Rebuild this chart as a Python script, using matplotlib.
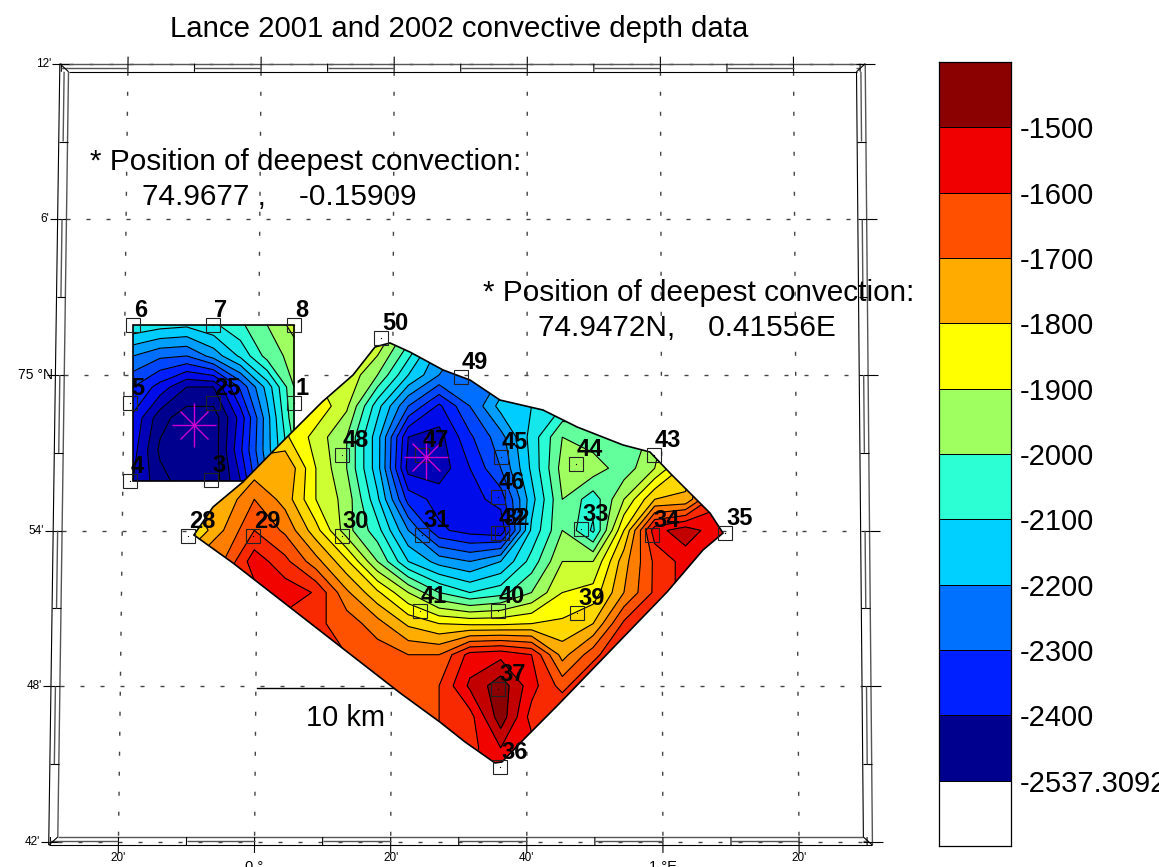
import numpy as np
import matplotlib
matplotlib.use('Agg')
import matplotlib.pyplot as plt
from matplotlib.colors import LinearSegmentedColormap, BoundaryNorm, ListedColormap
from matplotlib.patches import Polygon

plt.rcParams['font.family'] = ['Liberation Sans', 'DejaVu Sans']

# all positions in km east / north of 0 deg, 75 N
# --------------------------------------------------------------------------------------------------

# 2002 box
box_east = [-8.96, -7.04, -5.13, -3.21, -1.29, 0.62, 2.54]
box_north = [3.57, 1.36, -0.86, -3.07, -5.36, -7.57]
box_depth = [
    [-2060, -2080, -2090, -2060, -2010, -1950, -1880],
    [-2200, -2240, -2250, -2180, -2090, -1980, -1930],
    [-2300, -2370, -2450, -2450, -2290, -2130, -1950],
    [-2360, -2480, -2530, -2530, -2380, -2170, -1960],
    [-2380, -2510, -2530, -2530, -2360, -2170, -2000],
    [-2400, -2480, -2530, -2530, -2400, -2200, -2100],
]

# 2001 survey
sur_east = [-4.7, -2.5, -0.3, 1.9, 4.1, 6.3, 8.5, 10.7, 12.9, 15.1, 17.3, 19.5, 21.7, 23.9, 26.1, 28.3, 30.5, 32.7, 34.9]
sur_north = [4.44, 2.22, 0, -2.22, -4.44, -6.66, -8.88, -11.1, -13.32, -15.54, -17.76, -19.98, -22.2, -24.42, -26.64, -28.86]
sur_depth = [
    [-1800, -1800, -1800, -1800, -1800, -1850, -1870, -2000, -2150, -2200, -2200, -2100, -2050, -2000, -2000, -1950, -1800, -1600, -1500],
    [-1800, -1800, -1800, -1820, -1850, -1860, -1870, -2000, -2150, -2220, -2200, -2100, -2050, -2030, -2000, -1950, -1800, -1600, -1500],
    [-1800, -1800, -1800, -1820, -1850, -1860, -1950, -2100, -2200, -2240, -2200, -2110, -2060, -2030, -2000, -1950, -1800, -1600, -1500],
    [-1800, -1800, -1800, -1800, -1810, -1890, -2080, -2250, -2360, -2250, -2130, -2100, -2050, -2020, -2000, -1950, -1800, -1600, -1500],
    [-1800, -1800, -1780, -1790, -1870, -1950, -2130, -2400, -2420, -2310, -2220, -2080, -1950, -1980, -2000, -1930, -1800, -1600, -1500],
    [-1750, -1750, -1730, -1700, -1850, -1950, -2130, -2420, -2430, -2350, -2250, -2090, -1930, -1920, -1980, -1900, -1780, -1600, -1500],
    [-1750, -1740, -1650, -1720, -1850, -1920, -2090, -2320, -2370, -2370, -2330, -2120, -1950, -2030, -1900, -1750, -1740, -1560, -1500],
    [-1800, -1700, -1600, -1660, -1780, -1930, -2030, -2200, -2340, -2370, -2390, -2090, -1950, -2060, -1800, -1520, -1470, -1530, -1550],
    [-1700, -1650, -1520, -1585, -1680, -1790, -1950, -2100, -2170, -2200, -2150, -2030, -1900, -1900, -1720, -1590, -1530, -1540, -1550],
    [-1600, -1590, -1570, -1520, -1555, -1690, -1790, -1900, -2000, -2050, -2020, -1950, -1850, -1830, -1700, -1590, -1530, -1530, -1550],
    [-1550, -1550, -1560, -1570, -1590, -1620, -1680, -1760, -1800, -1810, -1810, -1800, -1790, -1750, -1590, -1530, -1530, -1550, -1550],
    [-1550, -1550, -1550, -1550, -1580, -1600, -1620, -1650, -1650, -1530, -1515, -1550, -1720, -1620, -1530, -1530, -1550, -1550, -1550],
    [-1550, -1550, -1550, -1550, -1580, -1600, -1600, -1610, -1600, -1490, -1420, -1530, -1620, -1530, -1530, -1550, -1550, -1550, -1550],
    [-1550, -1550, -1550, -1550, -1580, -1600, -1600, -1600, -1600, -1570, -1420, -1570, -1530, -1530, -1550, -1550, -1550, -1550, -1550],
    [-1550, -1550, -1550, -1550, -1580, -1600, -1600, -1600, -1600, -1570, -1500, -1530, -1550, -1550, -1550, -1550, -1550, -1550, -1550],
    [-1550, -1550, -1550, -1550, -1550, -1550, -1550, -1550, -1550, -1550, -1530, -1550, -1550, -1550, -1550, -1550, -1550, -1550, -1550],
]
sur_edge_east = [-4.61, -3.25, -1.11, 1.68, 4.54, 6.75, 8.32, 9.39, 10.82, 13.18, 15.11, 17.25, 20.32, 22.75, 26.04, 27.96,
                 29.39, 32.25, 33.18, 31.75, 29.18, 25.32, 21.39, 19.04, 17.39, 16.89, 14.75, 12.96, 10.11, -1.82]
sur_edge_north = [-11.43, -9.43, -7.64, -4.79, -1.93, 0, 2.0, 2.29, 1.64, 0.36, -0.36, -1.79, -2.5, -3.71, -5.0, -5.5,
                  -7.0, -9.86, -11.29, -12.5, -15.5, -19.5, -23.57, -25.93, -27.64, -27.71, -26.21, -24.79, -22.71, -13.43]

# stations
st_num = [1, 3, 4, 5, 6, 7, 8, 25, 28, 29, 30, 31, 42, 32, 33, 34, 35, 36, 37, 39, 40, 41, 43, 44, 45, 46, 47, 48, 49, 50]
st_east = [2.54, -3.39, -9.18, -9.18, -8.96, -3.25, 2.54, -3.25, -5.04, -0.39, 5.96, 11.68, 17.11, 17.39, 23.04, 28.11, 33.32,
           17.25, 17.11, 22.75, 17.11, 11.54, 28.25, 22.68, 17.32, 17.11, 11.68, 5.96, 14.46, 8.75]
st_north = [-2.0, -7.5, -7.57, -2.0, 3.57, 3.57, 3.57, -2.0, -11.5, -11.5, -11.5, -11.43, -11.29, -11.29, -11.0, -11.43, -11.29,
            -28.0, -22.43, -17.0, -16.86, -16.86, -5.71, -6.36, -5.86, -8.71, -5.71, -5.71, -0.14, 2.64]

deep_lat = [74.9677, 74.9472]
deep_lon = [-0.15909, 0.41556]

# colour bar
bar_colors = ['#ffffff', '#00008f', '#0020ff', '#0070ff', '#00d0ff', '#2cffd4', '#a0ff60', '#ffff00', '#ffab00', '#ff5000', '#f00000', '#8b0000']
bar_labels = ['-2537.3092', '-2400', '-2300', '-2200', '-2100', '-2000', '-1900', '-1800', '-1700', '-1600', '-1500']

# graticule
lon_ticks = [-1/3, 0, 1/3, 2/3, 1, 4/3]
lon_names = ["20'", '0 \u00b0', "20'", "40'", '1 \u00b0E', "20'"]
lat_ticks = [75.2, 75.1, 75.0, 74.9, 74.8, 74.7]
lat_names = ["12'", "6'", '75 \u00b0N', "54'", "48'", "42'"]

# --------------------------------------------------------------------------------------------------

def project(lon, lat):
    # meridians lean towards 0.72 E
    lon, lat = np.broadcast_arrays(np.asarray(lon, dtype=float), np.asarray(lat, dtype=float))
    x = 20.72 + 28.78*(lon-0.72)*(1 + 0.045*(75-lat))
    y = (lat-75)*111.19
    return x, y


def draw_frame(ax):
    lon_l, lon_r = -0.504, 1.513
    dlon, dlat = 0.022, 0.0052
    t = np.linspace(0, 1, 20)

    def line(lo0, la0, lo1, la1, **kw):
        x, y = project(lo0+(lo1-lo0)*t, la0+(la1-la0)*t)
        kw.setdefault('color', 'k')
        kw.setdefault('lw', 0.8)
        ax.plot(x, y, solid_capstyle='butt', **kw)

    top, bot = 75.2, 74.698
    # outer and inner rims
    line(lon_l, top, lon_r, top, color='#555555', lw=1)
    line(lon_l+dlon, top-dlat, lon_r-dlon, top-dlat)
    line(lon_l, bot, lon_r, bot)
    line(lon_l+dlon, bot+dlat, lon_r-dlon, bot+dlat, color='#555555', lw=1)
    line(lon_l, top, lon_l, bot)
    line(lon_l+dlon, top-dlat, lon_l+dlon, bot+dlat, color='#555555', lw=1)
    line(lon_r, top, lon_r, bot, color='#555555', lw=1)
    line(lon_r-dlon, top-dlat, lon_r-dlon, bot+dlat)

    # 10 minute / 3 minute divisions, every other one has a centre line
    lons = np.arange(-4, 13)*(1/6)
    lons = lons[(lons > lon_l) & (lons < lon_r)]
    for i, lo in enumerate(lons):
        line(lo, top, lo, top-dlat)
        line(lo, bot, lo, bot+dlat)
    edges = np.r_[lon_l+dlon, lons, lon_r-dlon]
    for i in range(len(edges)-1):
        if i % 2 == 1:
            line(edges[i], top-dlat/2, edges[i+1], top-dlat/2, color='#555555', lw=1)
            line(edges[i], bot+dlat/2, edges[i+1], bot+dlat/2, color='#555555', lw=1)

    lats = 74.7 + np.arange(0, 11)*0.05
    for la in lats:
        line(lon_l, la, lon_l+dlon, la)
        line(lon_r-dlon, la, lon_r, la)
    edges = np.r_[bot+dlat, lats[1:-1], top-dlat]
    for i in range(len(edges)-1):
        if i % 2 == 1:
            line(lon_l+dlon/2, edges[i], lon_l+dlon/2, edges[i+1], color='#555555', lw=1)
            line(lon_r-dlon/2, edges[i], lon_r-dlon/2, edges[i+1], color='#555555', lw=1)

    # corner cuts
    line(lon_l, top, lon_l+dlon, top-dlat)
    line(lon_l, bot, lon_l+dlon, bot+dlat)
    line(lon_r, top, lon_r-dlon, top-dlat)
    line(lon_r, bot, lon_r-dlon, bot+dlat)

    # graticule, outside ticks and labels
    dash = (0, (2.9, 11.5))
    for lo, name in zip(lon_ticks, lon_names):
        x, y = project(lo, top-dlat+(bot+dlat-top+dlat)*t)
        ax.plot(x, y, color='#444444', lw=1, ls=dash, zorder=1)
        line(lo, top+0.0045, lo, top)
        line(lo, bot, lo, bot-0.005)
        xb, yb = project(lo, bot)
        size = 10.5 if '\u00b0' in name else 8.5
        off = -1.57 if '\u00b0' in name else -0.95
        ax.text(xb, yb+off, name, fontsize=size, ha='center', va='center')
    for la, name in zip(lat_ticks, lat_names):
        x, y = project(np.array([lon_l+dlon, lon_r-dlon]), la)
        ax.plot(x, y, color='#444444', lw=1, ls=dash, zorder=1)
        line(lon_l-0.02, la, lon_l, la)
        line(lon_r, la, lon_r+0.025, la)
        xl, yl = project(lon_l-(0.005 if '\u00b0' in name else 0.022), la)
        ax.text(xl, yl, name, fontsize=10 if '\u00b0' in name else 8.5, ha='right', va='center')


# --------------------------------------------------------------------------------------------------

fig = plt.figure(figsize=(11.59, 8.67), dpi=100)
ax = fig.add_axes([0, 0, 1, 1])
ax.set_xlim(-18.464, 64.321)
ax.set_ylim(-35.143, 26.786)
ax.axis('off')

levels = np.arange(-2550, -1399, 50)
anchors = LinearSegmentedColormap.from_list('depth', [(0.0, '#00008f'), (0.0 + 80/1100, '#00008f'),
    (120/1100, '#0000e0'), (200/1100, '#0020ff'), (300/1100, '#0070ff'), (400/1100, '#00d0ff'), (500/1100, '#2cffd4'),
    (600/1100, '#a0ff60'), (700/1100, '#ffff00'), (800/1100, '#ffab00'), (900/1100, '#ff5000'), (1000/1100, '#f00000'),
    (1050/1100, '#c00000'), (1.0, '#8b0000')])
norm = BoundaryNorm(levels, anchors.N)

draw_frame(ax)

# scale bar goes under the map
ax.plot([-0.1, 9.9], [-22.36, -22.36], color='k', lw=1, zorder=1.5)
ax.text(3.4, -24.5, '10 km', fontsize=21, va='center', ha='left')

# 2002 box
ax.contourf(box_east, box_north, box_depth, levels=levels, cmap=anchors, norm=norm, zorder=2)
ax.contour(box_east, box_north, box_depth, levels=levels, colors='k', linewidths=0.8, linestyles='solid', zorder=2.1)
ax.add_patch(plt.Rectangle((box_east[0], box_north[-1]), box_east[-1]-box_east[0], box_north[0]-box_north[-1],
                           fc='none', ec='k', lw=1.2, zorder=2.2))

# 2001 survey
outline = Polygon(np.column_stack([sur_edge_east, sur_edge_north]), closed=True, fc='none', ec='none', transform=ax.transData)
ax.add_patch(outline)
cf = ax.contourf(sur_east, sur_north, sur_depth, levels=levels, cmap=anchors, norm=norm, zorder=3)
cl = ax.contour(sur_east, sur_north, sur_depth, levels=levels, colors='k', linewidths=0.8, linestyles='solid', zorder=3.1)
cf.set_clip_path(outline)
cl.set_clip_path(outline)
ax.add_patch(Polygon(np.column_stack([sur_edge_east, sur_edge_north]), closed=True, fc='none', ec='k', lw=1.2, zorder=3.2))

# stations
ax.plot(st_east, st_north, ls='none', marker='s', ms=10, mfc='none', mec='#222222', mew=0.8, zorder=4)
ax.plot(st_east, st_north, ls='none', marker='s', ms=0.8, mfc='k', mec='none', zorder=4)
for num, e, n in zip(st_num, st_east, st_north):
    ax.annotate(str(num), xy=(e, n), xytext=(0.7, 5.8), textcoords='offset points', fontsize=17, fontweight='bold',
                ha='left', va='baseline', zorder=6)

# deepest convection
x_deep, y_deep = project(deep_lon, deep_lat)
ax.plot(x_deep, y_deep, ls='none', marker='+', ms=31, mew=1, color='#d000d0', zorder=5)
ax.plot(x_deep, y_deep, ls='none', marker='x', ms=20, mew=1, color='#d000d0', zorder=5)

ax.text(-12.04, 15.22, '* Position of deepest convection:', fontsize=21.4, va='center', ha='left', zorder=7)
ax.text(-8.32, 12.72, '74.9677 ,    -0.15909', fontsize=21.4, va='center', ha='left', zorder=7)
ax.text(16.04, 5.86, '* Position of deepest convection:', fontsize=21.4, va='center', ha='left', zorder=7)
ax.text(19.96, 3.36, '74.9472N,    0.41556E', fontsize=21.4, va='center', ha='left', zorder=7)

fig.text(459/1159, 1-29/867, 'Lance 2001 and 2002 convective depth data', fontsize=21.15, ha='center', va='center')

# colour bar
cax = fig.add_axes([939/1159, 21/867, 72/1159, 784/867])
cax.pcolormesh([0, 1], np.arange(len(bar_colors)+1), np.arange(len(bar_colors)).reshape(-1, 1),
               cmap=ListedColormap(bar_colors), edgecolors='k', linewidth=0.6)
cax.set_xticks([])
cax.set_yticks(np.arange(1, len(bar_colors)))
cax.set_yticklabels(bar_labels, fontsize=21)
cax.yaxis.tick_right()
cax.tick_params(axis='y', length=0, pad=6)
for s in cax.spines.values():
    s.set_linewidth(0.9)

fig.savefig('out.png', dpi=100)
